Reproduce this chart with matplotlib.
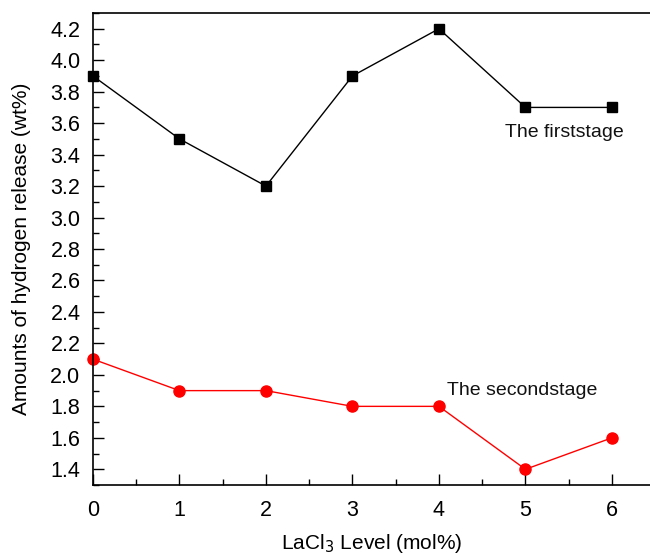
import numpy as np
import matplotlib.pyplot as plt
from matplotlib.ticker import MultipleLocator

plt.rcParams['font.family'] = ['Liberation Sans', 'DejaVu Sans']

# datos
lacl3 = [0, 1, 2, 3, 4, 5, 6]
first_stage = [3.9, 3.5, 3.2, 3.9, 4.2, 3.7, 3.7]
second_stage = [2.1, 1.9, 1.9, 1.8, 1.8, 1.4, 1.6]

fig = plt.figure(figsize=(6.5, 5.54), dpi=100)
ax = fig.add_axes([0.143, 0.1245, 0.857, 0.852])

ax.plot(lacl3, first_stage, color="black", marker="s", markersize=7.5, linewidth=1, clip_on=False)
ax.plot(lacl3, second_stage, color="red", marker="o", markersize=8, linewidth=1, clip_on=False)

ax.text(4.76, 3.54, "The firststage", fontsize=14, va="center", color="#111111")
ax.text(4.09, 1.9, "The secondstage", fontsize=14, va="center", color="#111111")

ax.set_xlim(0, 6.44)
ax.set_ylim(1.3, 4.3)
ax.xaxis.set_major_locator(MultipleLocator(1))
ax.xaxis.set_minor_locator(MultipleLocator(0.5))
ax.yaxis.set_minor_locator(MultipleLocator(0.1))
ax.set_yticks(np.arange(1.4, 4.21, 0.2))
ax.tick_params(which="major", direction="in", length=8, width=1, labelsize=15.5, pad=9)
ax.tick_params(axis="x", which="major", pad=11)
ax.tick_params(which="minor", direction="in", length=4, width=1)
ax.spines["right"].set_visible(False)
for s in ["left", "bottom", "top"]:
    ax.spines[s].set_linewidth(1.2)

ax.set_xlabel("LaCl$_3$ Level (mol%)", fontsize=15, labelpad=8)
ax.set_ylabel("Amounts of hydrogen release (wt%)", fontsize=15, labelpad=14)

fig.savefig("out.png", dpi=100)
